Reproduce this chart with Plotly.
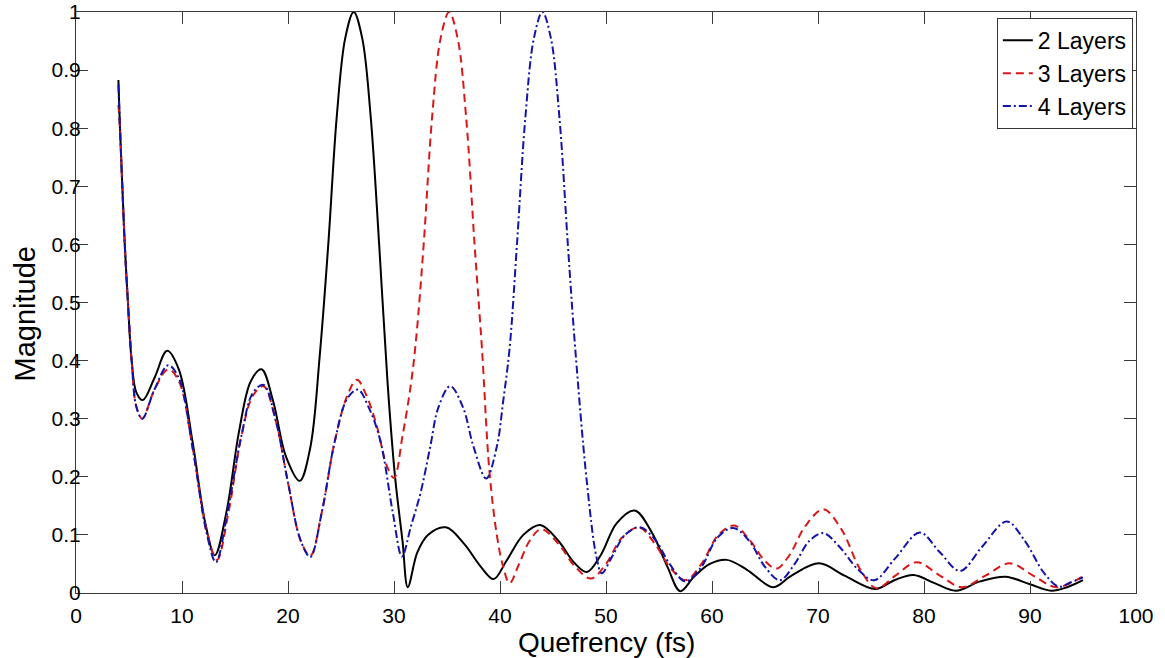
import plotly.graph_objects as go

# 2 Layers (black solid)
x2 = [4.0, 4.15, 4.37, 4.6, 4.9, 5.25, 5.7, 6.3, 7.4, 8.6, 9.7, 11.0, 12.2, 13.1, 14.2, 15.4, 16.5, 17.5,
      18.6, 19.8, 21.1, 22.1, 23.0, 23.8, 24.6, 25.4, 26.2, 27.0, 27.8, 28.6, 29.4, 30.1, 30.8, 31.3,
      32.2, 33.2, 34.9, 36.6, 38.2, 39.4, 40.6, 42.2, 43.8, 45.5, 47.0, 48.2, 49.5, 51.0, 52.7, 54.3,
      55.8, 57.0, 58.3, 59.8, 61.4, 63.3, 65.8, 67.5, 70.1, 72.5, 75.4, 77.2, 79.0, 81.0, 83.0, 85.3,
      87.7, 90.0, 92.0, 93.5, 95.0]
y2 = [0.883, 0.80, 0.70, 0.60, 0.50, 0.40, 0.345, 0.332, 0.37, 0.417, 0.385, 0.26, 0.12, 0.065, 0.14, 0.28,
      0.365, 0.385, 0.33, 0.235, 0.193, 0.25, 0.41, 0.60, 0.82, 0.955, 1.0, 0.955, 0.82, 0.60, 0.36, 0.20,
      0.09, 0.01, 0.07, 0.10, 0.113, 0.085, 0.045, 0.024, 0.055, 0.10, 0.117, 0.09, 0.052, 0.036, 0.065,
      0.12, 0.142, 0.105, 0.045, 0.003, 0.028, 0.05, 0.057, 0.04, 0.01, 0.03, 0.051, 0.03, 0.007, 0.022,
      0.031, 0.017, 0.004, 0.02, 0.028, 0.015, 0.004, 0.01, 0.022]

# 3 Layers (red dashed)
x3 = [4.0, 4.15, 4.37, 4.6, 4.9, 5.25, 5.7, 6.25, 7.4, 8.7, 9.7, 11.0, 12.3, 13.3, 14.4, 15.6, 16.7, 17.7,
      18.8, 20.0, 21.2, 22.1, 23.2, 24.4, 25.6, 26.5, 27.4, 28.4, 29.3, 30.0, 30.8, 31.6, 32.1, 32.8,
      33.6, 34.4, 35.2, 36.0, 36.8, 37.6, 38.3, 39.0, 39.7, 40.3, 40.9, 41.8, 42.8, 43.9, 45.5, 47.1,
      48.6, 50.0, 51.5, 53.1, 54.6, 56.0, 57.5, 59.0, 60.6, 62.1, 63.6, 65.0, 66.1, 67.3, 68.8, 70.5,
      72.2, 74.0, 75.5, 77.3, 79.3, 81.5, 83.6, 85.8, 88.1, 90.3, 92.5, 95.0]
y3 = [0.84, 0.80, 0.70, 0.60, 0.50, 0.40, 0.32, 0.30, 0.35, 0.385, 0.365, 0.25, 0.11, 0.057, 0.14, 0.27,
      0.34, 0.356, 0.30, 0.19, 0.09, 0.064, 0.14, 0.26, 0.34, 0.367, 0.34, 0.286, 0.22, 0.198, 0.27,
      0.36, 0.44, 0.60, 0.82, 0.955, 1.0, 0.955, 0.82, 0.60, 0.42, 0.21, 0.10, 0.045, 0.017, 0.05, 0.09,
      0.11, 0.085, 0.045, 0.025, 0.05, 0.095, 0.113, 0.085, 0.045, 0.022, 0.05, 0.10, 0.116, 0.09,
      0.055, 0.042, 0.065, 0.115, 0.144, 0.11, 0.04, 0.008, 0.03, 0.053, 0.03, 0.01, 0.03, 0.051, 0.03,
      0.01, 0.029]

# 4 Layers (blue dash-dot)
x4 = [4.0, 4.15, 4.37, 4.6, 4.9, 5.25, 5.7, 6.25, 7.4, 8.7, 9.7, 11.0, 12.3, 13.2, 14.3, 15.6, 16.7, 17.7,
      18.8, 20.0, 21.2, 22.1, 23.2, 24.4, 25.6, 26.6, 27.6, 28.7, 29.9, 30.75, 31.6, 32.5, 33.4, 34.2,
      35.3, 36.5, 37.5, 38.7, 39.7, 40.3, 40.9, 41.6, 42.4, 43.2, 44.0, 44.8, 45.6, 46.4, 47.1, 48.2,
      49.1, 49.6, 50.5, 51.8, 53.2, 54.7, 56.0, 57.5, 59.0, 60.5, 62.0, 63.5, 65.0, 66.4, 67.8, 69.2,
      70.5, 72.0, 73.8, 75.3, 77.3, 79.6, 81.5, 83.4, 85.5, 87.8, 89.5, 91.3, 92.7, 93.8, 95.0]
y4 = [0.875, 0.80, 0.70, 0.60, 0.50, 0.40, 0.32, 0.30, 0.35, 0.392, 0.37, 0.25, 0.105, 0.053, 0.14, 0.27,
      0.345, 0.358, 0.30, 0.19, 0.09, 0.062, 0.14, 0.26, 0.335, 0.35, 0.32, 0.263, 0.137, 0.063, 0.115,
      0.172, 0.25, 0.32, 0.356, 0.32, 0.252, 0.197, 0.252, 0.33, 0.42, 0.60, 0.82, 0.955, 1.0, 0.955,
      0.82, 0.60, 0.42, 0.19, 0.062, 0.034, 0.06, 0.10, 0.113, 0.09, 0.05, 0.02, 0.045, 0.095, 0.112,
      0.09, 0.045, 0.022, 0.05, 0.09, 0.103, 0.08, 0.04, 0.022, 0.06, 0.104, 0.07, 0.038, 0.08, 0.123,
      0.09, 0.035, 0.011, 0.018, 0.027]

names = ["2 Layers", "3 Layers", "4 Layers"]
x_ticks = list(range(0, 101, 10))
x_title = "Quefrency (fs)"
y_title = "Magnitude"

FONT = "Liberation Sans, Arial, Helvetica, sans-serif"

fig = go.Figure()
fig.add_trace(go.Scatter(x=x2, y=y2, mode="lines", name=names[0], line_shape="spline",
                         line=dict(color="#000000", width=2)))
fig.add_trace(go.Scatter(x=x3, y=y3, mode="lines", name=names[1], line_shape="spline",
                         line=dict(color="#d81818", width=2, dash="8px,5px")))
fig.add_trace(go.Scatter(x=x4, y=y4, mode="lines", name=names[2], line_shape="spline",
                         line=dict(color="#1414a8", width=2, dash="8px,3px,2px,3px")))

axis_common = dict(showline=True, linecolor="#3a3a3a", linewidth=1, mirror="ticks",
                   ticks="inside", ticklen=12, tickcolor="#3a3a3a", showgrid=False,
                   zeroline=False, automargin=False,
                   tickfont=dict(family=FONT, size=21, color="#000"))

fig.update_layout(
    width=1165, height=658,
    margin=dict(l=76, r=29, t=12, b=65, autoexpand=False),
    paper_bgcolor="white", plot_bgcolor="white",
    font=dict(family=FONT, color="#000"),
    xaxis=dict(range=[0, 100], tickvals=x_ticks, ticklabelstandoff=4, **axis_common),
    yaxis=dict(range=[0, 1], dtick=0.1, tick0=0, ticklabelstandoff=-10, **axis_common),
    legend=dict(x=0.997, y=0.99, xanchor="right", yanchor="top", bgcolor="white",
                bordercolor="#333", borderwidth=1, font=dict(family=FONT, size=23),
                tracegroupgap=0),
    showlegend=True,
    annotations=[
        dict(text=x_title, xref="paper", yref="paper", x=0.5, y=0, xanchor="center",
             yanchor="middle", yshift=-49, showarrow=False,
             font=dict(family=FONT, size=28, color="#000")),
        dict(text=y_title, xref="paper", yref="paper", x=0, y=0.5, xanchor="center",
             yanchor="middle", xshift=-52, yshift=-12, textangle=-90, showarrow=False,
             font=dict(family=FONT, size=29, color="#000")),
    ],
)

fig.write_html("out.html")
